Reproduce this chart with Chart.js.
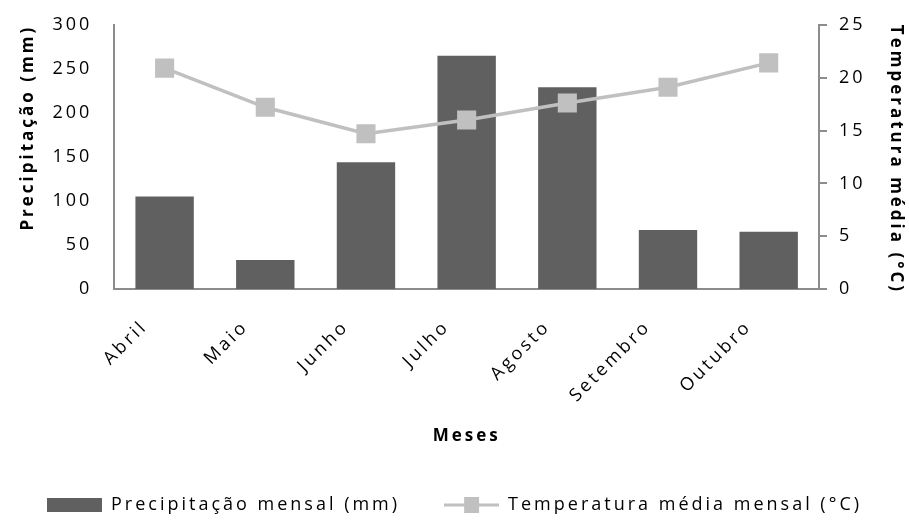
<!DOCTYPE html>
<html>
<head>
<meta charset="utf-8">
<script src="https://cdn.jsdelivr.net/npm/chart.js@4.4.1/dist/chart.umd.min.js"></script>
<style>
  html, body { margin: 0; padding: 0; background: #fff; }
  #wrap { width: 909px; height: 525px; }
</style>
</head>
<body>
<div id="wrap"><canvas id="chart" width="909" height="525"></canvas></div>
<script>
// --- DONNÉES ---
const meses = ["Abril", "Maio", "Junho", "Julho", "Agosto", "Setembro", "Outubro"];
const precipitacao = [105, 33, 144, 265, 229, 67, 65];
const temperatura = [20.9, 17.2, 14.7, 16.0, 17.6, 19.1, 21.4];
const precTicks = [0, 50, 100, 150, 200, 250, 300];
const tempTicks = [0, 5, 10, 15, 20, 25];

const corBarra = "#606060";
const corLinha = "#c0c0c0";
const corEixo = "#8c8c8c";
const fonte = "'Open Sans', 'DejaVu Sans', sans-serif";

// icones da legenda
function iconeBarra() {
  const c = document.createElement("canvas");
  c.width = 55; c.height = 14;
  const g = c.getContext("2d");
  g.fillStyle = corBarra;
  g.fillRect(0, 0, 55, 14);
  return c;
}
function iconeLinha() {
  const c = document.createElement("canvas");
  c.width = 55; c.height = 16;
  const g = c.getContext("2d");
  g.fillStyle = corLinha;
  g.fillRect(0, 6.5, 55, 3);
  g.fillRect(20, 0, 15, 16);
  return c;
}

// espaçamento entre letras (texto do original é espaçado)
const espacamento = {
  id: "espacamento",
  beforeUpdate(chart) { chart.ctx.letterSpacing = "3px"; },
  beforeDraw(chart) { chart.ctx.letterSpacing = "3px"; },
};

new Chart(document.getElementById("chart"), {
  data: {
    labels: meses,
    datasets: [
      {
        type: "line",
        label: "Temperatura média mensal (°C)",
        data: temperatura,
        yAxisID: "y1",
        borderColor: corLinha,
        backgroundColor: corLinha,
        borderWidth: 3.5,
        pointStyle: "rect",
        pointRadius: 13.5,
        pointHoverRadius: 13.5,
        pointBorderWidth: 0,
        order: 0,
      },
      {
        type: "bar",
        label: "Precipitação mensal (mm)",
        data: precipitacao,
        yAxisID: "y",
        backgroundColor: corBarra,
        barPercentage: 0.58,
        categoryPercentage: 1,
        order: 1,
      },
    ],
  },
  options: {
    responsive: false,
    animation: false,
    layout: { padding: { top: 23, left: 0, right: 0, bottom: 1 } },
    plugins: {
      tooltip: { enabled: false },
      legend: {
        position: "bottom",
        labels: {
          usePointStyle: true,
          pointStyleWidth: 55,
          padding: 44,
          color: "#000",
          font: { family: fonte, size: 18 },
          generateLabels: (chart) => [
            { text: "Precipitação mensal (mm)", pointStyle: iconeBarra(), datasetIndex: 1, fontColor: "#000", lineWidth: 0 },
            { text: "Temperatura média mensal (°C)", pointStyle: iconeLinha(), datasetIndex: 0, fontColor: "#000", lineWidth: 0 },
          ],
        },
      },
    },
    scales: {
      x: {
        grid: { display: false },
        border: { color: corEixo, width: 2 },
        ticks: {
          color: "#000",
          font: { family: fonte, size: 18 },
          minRotation: 45,
          maxRotation: 45,
          padding: 19,
          labelOffset: -20,
        },
        title: {
          display: true,
          text: "Meses",
          color: "#000",
          font: { family: fonte, size: 17, weight: "bold" },
          padding: { top: 0, bottom: 6 },
        },
      },
      y: {
        position: "left",
        min: 0,
        max: 300,
        afterBuildTicks: (s) => { s.ticks = precTicks.map((v) => ({ value: v })); },
        grid: { display: false },
        border: { color: corEixo, width: 2 },
        ticks: { color: "#000", font: { family: fonte, size: 18 }, padding: 14 },
        title: {
          display: true,
          text: "Precipitação (mm)",
          align: "end",
          color: "#000",
          font: { family: fonte, size: 17, weight: "bold" },
          padding: { top: 18, bottom: 0 },
        },
      },
      y1: {
        position: "right",
        min: 0,
        max: 25,
        afterBuildTicks: (s) => { s.ticks = tempTicks.map((v) => ({ value: v })); },
        grid: { drawOnChartArea: false, color: corEixo, tickLength: 8, lineWidth: 2 },
        border: { color: corEixo, width: 2 },
        ticks: { color: "#000", font: { family: fonte, size: 18 }, padding: 12 },
        title: {
          display: true,
          text: "Temperatura média (°C)",
          align: "end",
          color: "#000",
          font: { family: fonte, size: 17, weight: "bold" },
          padding: { top: 3, bottom: 8 },
        },
      },
    },
  },
  plugins: [espacamento],
});
</script>
</body>
</html>
